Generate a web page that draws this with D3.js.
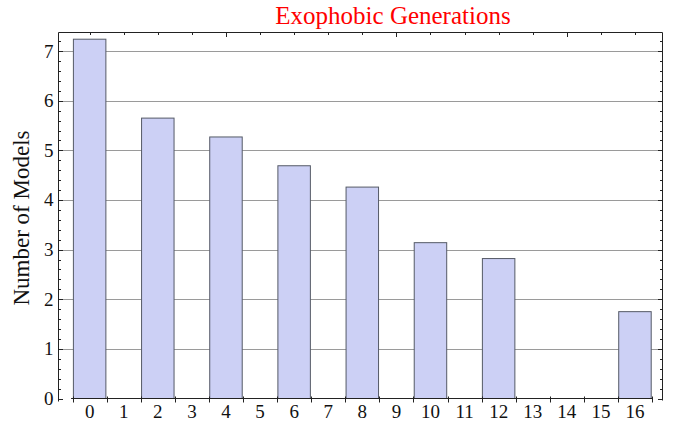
<!DOCTYPE html>
<html>
<head>
<meta charset="utf-8">
<script src="https://cdn.jsdelivr.net/npm/d3@7"></script>
<style>
  html, body { margin: 0; padding: 0; background: #fff; }
  svg { display: block; }
  text { font-family: "Liberation Serif", "Times New Roman", serif; }
</style>
</head>
<body>
<svg id="chart" width="674" height="422"></svg>
<script>
// ---- data ----
const categories = ["0","1","2","3","4","5","6","7","8","9","10","11","12","13","14","15","16"];
const values     = [7.24, 0, 5.65, 0, 5.27, 0, 4.69, 0, 4.26, 0, 3.14, 0, 2.82, 0, 0, 0, 1.75];
const yTicks     = [0, 1, 2, 3, 4, 5, 6, 7];
const titleText  = "Exophobic Generations";
const yLabelText = "Number of Models";

// ---- layout ----
const W = 674, H = 422;
const frame = { left: 58.5, right: 662.5, top: 32.5, bottom: 398.5 };
const svg = d3.select("#chart");

const x = d3.scaleBand().domain(categories).range([72.6, 652]).paddingInner(0).paddingOuter(0);
const y = d3.scaleLinear().domain([0, 7.375]).range([frame.bottom, frame.top]);

// gridlines
svg.append("g").selectAll("line").data(yTicks.filter(d => d > 0)).join("line")
  .attr("x1", frame.left).attr("x2", frame.right)
  .attr("y1", d => Math.round(y(d)) + 0.5).attr("y2", d => Math.round(y(d)) + 0.5)
  .attr("stroke", "#9a9a9a").attr("stroke-width", 1);

// bars
const inset = 0.8;
svg.append("g").selectAll("rect").data(categories.map((c, i) => ({ c, v: values[i] })).filter(d => d.v > 0))
  .join("rect")
  .attr("x", d => x(d.c) + inset)
  .attr("width", x.bandwidth() - 2 * inset)
  .attr("y", d => y(d.v))
  .attr("height", d => y(0) - y(d.v))
  .attr("fill", "#ccd0f5")
  .attr("stroke", "#555a66")
  .attr("stroke-width", 1);

// frame: left, top, right
const fg = svg.append("g").attr("stroke", "#222").attr("stroke-width", 1).attr("fill", "none");
fg.append("path").attr("d",
  `M${frame.left},${frame.bottom + 3}V${frame.top}H${frame.right}V${frame.bottom + 2}`);

// left & right ticks
const minorY = d3.range(0, 7.37, 0.2).map(v => +v.toFixed(2));
const tg = svg.append("g").attr("stroke", "#222").attr("stroke-width", 1);
minorY.forEach(v => {
  const major = Math.abs(v - Math.round(v)) < 1e-6;
  const len = major ? 4.5 : 2.5;
  const yy = Math.round(y(v)) + 0.5;
  tg.append("line").attr("x1", frame.left).attr("x2", frame.left + len).attr("y1", yy).attr("y2", yy);
  tg.append("line").attr("x1", frame.right).attr("x2", frame.right - len).attr("y1", yy).attr("y2", yy);
});

// y tick labels
svg.append("g").selectAll("text").data(yTicks).join("text")
  .attr("x", frame.left - 5).attr("y", d => y(d)).attr("dy", "0.34em")
  .attr("text-anchor", "end").attr("font-size", 19).attr("fill", "#111")
  .text(d => d);

// top ticks at bar centers
categories.forEach((c, i) => {
  const major = (i + 1) % 5 === 0;
  const xx = Math.round(x(c) + x.bandwidth() / 2) + 0.5;
  tg.append("line").attr("x1", xx).attr("x2", xx).attr("y1", frame.top).attr("y2", frame.top + (major ? 4.5 : 2.5));
});

// bottom axis line with ticks at band edges
const xAxisG = svg.append("g").attr("stroke", "#222").attr("stroke-width", 1);
const x0 = x.range()[0], x1 = x.range()[1];
xAxisG.append("line").attr("x1", x0 - 1.5).attr("x2", x1 + 0.5).attr("y1", frame.bottom).attr("y2", frame.bottom);
const edges = categories.map(c => x(c)).concat([x1]);
edges.forEach(e => {
  const xx = Math.round(e) + 0.5;
  xAxisG.append("line").attr("x1", xx).attr("x2", xx).attr("y1", frame.bottom - 2).attr("y2", frame.bottom + 4);
});

// x labels
svg.append("g").selectAll("text").data(categories).join("text")
  .attr("x", d => x(d) + x.bandwidth() / 2).attr("y", 418)
  .attr("text-anchor", "middle").attr("font-size", 19).attr("fill", "#111")
  .text(d => d);

// title
svg.append("text").attr("x", 393).attr("y", 24).attr("text-anchor", "middle")
  .attr("font-size", 25).attr("fill", "#ff0000").text(titleText);

// y label
svg.append("text").attr("transform", "translate(29,218) rotate(-90)")
  .attr("text-anchor", "middle").attr("font-size", 23).attr("fill", "#111").text(yLabelText);
</script>
</body>
</html>
